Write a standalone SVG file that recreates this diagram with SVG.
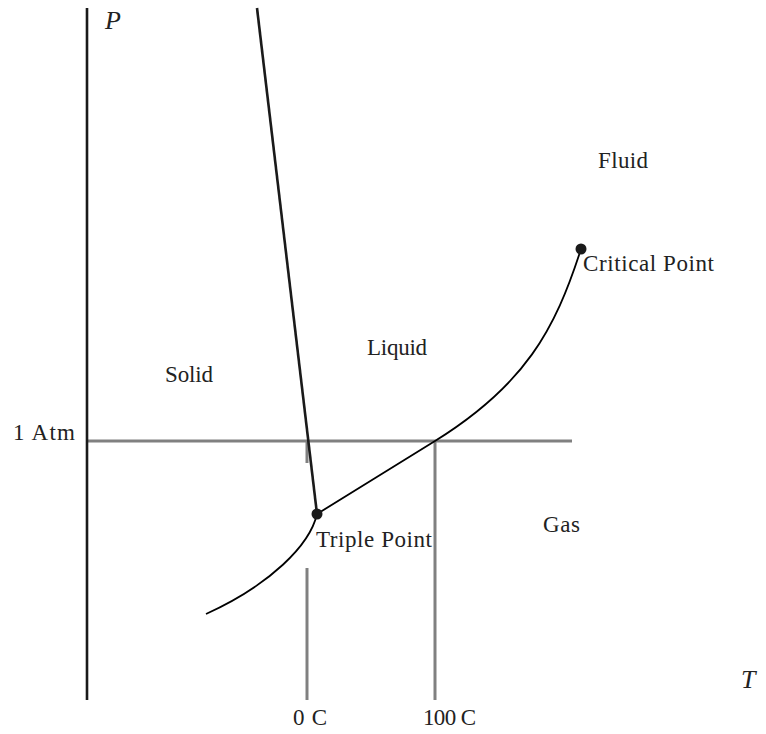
<svg xmlns="http://www.w3.org/2000/svg" width="766" height="734" viewBox="0 0 766 734">
<style>
.lbl{font-family:"Liberation Serif","DejaVu Serif",serif;font-size:23px;fill:#222}
.it{font-family:"Liberation Serif","DejaVu Serif",serif;font-style:italic;font-size:26px;fill:#222}
.grid{stroke:#808080;stroke-width:3;fill:none}
.axis{stroke:#1a1a1a;stroke-width:2.6;fill:none}
.curve{stroke:#000;stroke-width:1.8;fill:none}
.dot{fill:#1a1a1a}
</style>
<rect width="766" height="734" fill="#fff"/>
<g id="grid-lines">
<line class="grid" x1="87" y1="441" x2="572" y2="441"/>
<line class="grid" x1="307" y1="441" x2="307" y2="463"/>
<line class="grid" x1="307" y1="568" x2="307" y2="700"/>
<line class="grid" x1="435" y1="441" x2="435" y2="700"/>
</g>
<g id="axes">
<line class="axis" x1="87" y1="8" x2="87" y2="700"/>
</g>
<g id="connectors">
<line class="axis" x1="257" y1="8" x2="317" y2="514"/>
<path class="curve" d="M317,514 C356,490 396,465 435,441 C525,385 555,330 581,249"/>
<path class="curve" d="M317,514 C310,545 270,585 206,614"/>
</g>
<g id="triple-point">
<circle class="dot" cx="317" cy="514" r="5.5"/>
<text class="lbl" x="316" y="547" textLength="116">Triple Point</text>
</g>
<g id="critical-point">
<circle class="dot" cx="581" cy="249" r="5.5"/>
<text class="lbl" x="583" y="271" textLength="131">Critical Point</text>
</g>
<g id="labels">
<text class="it" x="105" y="29">P</text>
<text class="it" x="741" y="688">T</text>
<text class="lbl" x="165" y="382" textLength="48">Solid</text>
<text class="lbl" x="367" y="355" textLength="60">Liquid</text>
<text class="lbl" x="598" y="168" textLength="50">Fluid</text>
<text class="lbl" x="543" y="532" textLength="37">Gas</text>
<text class="lbl" x="13" y="440" textLength="62">1 Atm</text>
<text class="lbl" x="293" y="725" textLength="34">0 C</text>
<text class="lbl" x="423" y="725" textLength="53">100 C</text>
</g>
</svg>
